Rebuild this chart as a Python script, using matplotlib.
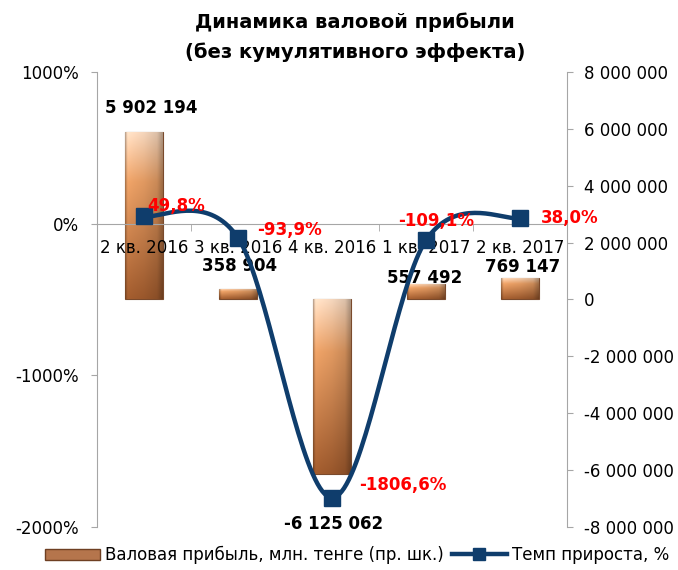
import numpy as np
import matplotlib
matplotlib.use('Agg')
import matplotlib.pyplot as plt
from matplotlib.patches import Patch
from matplotlib.lines import Line2D

# ---------------- data ----------------
categories = ['2 кв. 2016', '3 кв. 2016', '4 кв. 2016', '1 кв. 2017', '2 кв. 2017']
gross_profit = [5902194, 358904, -6125062, 557492, 769147]
growth_pct = [49.8, -93.9, -1806.6, -109.1, 38.0]
profit_labels = ['5 902 194', '358 904', '-6 125 062', '557 492', '769 147']
pct_labels = ['49,8%', '-93,9%', '-1806,6%', '-109,1%', '38,0%']
left_ticks = [-2000, -1000, 0, 1000]
left_ticklabels = ['-2000%', '-1000%', '0%', '1000%']
right_ticks = [-8000000, -6000000, -4000000, -2000000, 0, 2000000, 4000000, 6000000, 8000000]
right_ticklabels = ['-8 000 000', '-6 000 000', '-4 000 000', '-2 000 000', '0',
                    '2 000 000', '4 000 000', '6 000 000', '8 000 000']
title_lines = ['Динамика валовой прибыли', '(без кумулятивного эффекта)']
legend_labels = ['Валовая прибыль, млн. тенге (пр. шк.)', 'Темп прироста, %']

# ---------------- style ----------------
W, H = 678, 570
plt.rcParams['font.family'] = ['DejaVu Sans']
LINE_C = '#0f3d6c'
SPINE_C = '#a6a6a6'
fig = plt.figure(figsize=(W / 100, H / 100), dpi=100)
ax = fig.add_axes([97 / W, 1 - 527 / H, (567 - 97) / W, (527 - 72) / H])
ax2 = ax.twinx()
ax.set_zorder(ax2.get_zorder() + 1)
ax.patch.set_visible(False)

x = np.arange(len(categories))

# ---------------- bars (right axis) ----------------
bar_w = 0.4
bars = ax2.bar(x, gross_profit, width=bar_w, color='#c8865a', edgecolor='#7a4a2c',
               linewidth=0.8, zorder=2)

# copper gradient image clipped to each bar
ny, nx = 120, 60
tv = np.linspace(0, 1, ny)[:, None]          # (ny,1)
th = np.linspace(0, 1, nx)
top_c = np.array([0.96, 0.84, 0.74])[None, :]
mid_c = np.array([0.88, 0.60, 0.38])[None, :]
bot_c = np.array([0.60, 0.34, 0.17])[None, :]
vert = np.where(tv < 0.3,
                top_c + (mid_c - top_c) * (tv / 0.3),
                mid_c + (bot_c - mid_c) * ((tv - 0.3) / 0.7))   # (ny,3)
vert = vert[:, None, :]
shade = np.interp(th, [0, 0.06, 0.2, 0.5, 0.85, 0.94, 1.0],
                  [0.75, 1.08, 1.05, 1.0, 0.9, 0.78, 0.7])[None, :, None]
img = np.clip(vert * shade, 0, 1)
for b in bars:
    x0 = b.get_x()
    x1 = x0 + b.get_width()
    y0 = min(b.get_y(), b.get_y() + b.get_height())
    y1 = max(b.get_y(), b.get_y() + b.get_height())
    im = ax2.imshow(img, extent=[x0, x1, y0, y1], aspect='auto', origin='upper',
                    interpolation='bilinear', zorder=2.5)
    im.set_clip_path(b)

ax2.set_ylim(-8000000, 8000000)
ax2.set_yticks(right_ticks)
ax2.set_yticklabels(right_ticklabels)

# bar labels
bar_offsets = [(5, 17), (1, 17), (1, -36), (-1, 4), (2, 8)]
for xi, v, lab, off in zip(x, gross_profit, profit_labels, bar_offsets):
    ax2.annotate(lab, xy=(xi, v), xytext=off, textcoords='offset points',
                 ha='center', va='center', fontsize=12, fontweight='bold',
                 color='black', zorder=5)

# ---------------- line (left axis) ----------------
def catmull_rom(px, py, n=40):
    P = np.column_stack([px, py]).astype(float)
    P = np.vstack([P[0], P, P[-1]])
    out = []
    for i in range(1, len(P) - 2):
        p0, p1, p2, p3 = P[i - 1], P[i], P[i + 1], P[i + 2]
        c1 = p1 + (p2 - p0) / 6.0
        c2 = p2 - (p3 - p1) / 6.0
        t = np.linspace(0, 1, n)[:, None]
        seg = ((1 - t) ** 3) * p1 + 3 * ((1 - t) ** 2) * t * c1 + 3 * (1 - t) * t ** 2 * c2 + t ** 3 * p2
        out.append(seg if i == 1 else seg[1:])
    return np.vstack(out)

curve = catmull_rom(x, growth_pct)
ax.plot(curve[:, 0], curve[:, 1], color=LINE_C, lw=3.2, solid_capstyle='round', zorder=3)
ax.plot(x, growth_pct, linestyle='none', marker='s', ms=11, color=LINE_C, zorder=4)

pct_offsets = [(23, 7), (37, 6), (51, 9), (7, 14), (36, 0)]
for xi, v, lab, off in zip(x, growth_pct, pct_labels, pct_offsets):
    ax.annotate(lab, xy=(xi, v), xytext=off, textcoords='offset points',
                ha='center', va='center', fontsize=12, fontweight='bold',
                color='#ff0000', zorder=6)

ax.set_ylim(-2000, 1000)
ax.set_yticks(left_ticks)
ax.set_yticklabels(left_ticklabels)
ax.set_xlim(-0.5, len(categories) - 0.5)

# category axis at 0%
ax.spines['bottom'].set_position(('data', 0))
ax.set_xticks(x)
ax.set_xticklabels(categories, fontsize=12)
ax.set_xticks(np.arange(-0.5, len(categories), 1.0), minor=True)
ax.tick_params(axis='x', which='major', length=0, pad=11)
ax.tick_params(axis='x', which='minor', length=5, color=SPINE_C, direction='out')

for a in (ax, ax2):
    a.spines['top'].set_visible(False)
    for s in ('left', 'right', 'bottom'):
        a.spines[s].set_color(SPINE_C)
ax2.spines['bottom'].set_visible(False)
ax.tick_params(axis='y', labelsize=12, length=4, color=SPINE_C, pad=9)
ax2.tick_params(axis='y', labelsize=12, length=4, color=SPINE_C, pad=8)
ax.spines['right'].set_visible(False)
ax2.spines['left'].set_visible(False)

# ---------------- title ----------------
fig.text(355 / W, 1 - 22 / H, title_lines[0], ha='center', va='center',
         fontsize=14, fontweight='bold')
fig.text(355 / W, 1 - 52 / H, title_lines[1], ha='center', va='center',
         fontsize=14, fontweight='bold')

# ---------------- legend ----------------
handles = [Patch(facecolor='#b5754c', edgecolor='#6e3f22', linewidth=1.0),
           Line2D([0], [0], color=LINE_C, lw=3.2, marker='s', ms=9)]
fig.legend(handles, legend_labels, loc='center', bbox_to_anchor=(357 / W, 15 / H),
           ncol=2, frameon=False, fontsize=12, handlelength=3.3, handleheight=0.65,
           columnspacing=0.5, handletextpad=0.3)

fig.savefig('out.png', dpi=100)
